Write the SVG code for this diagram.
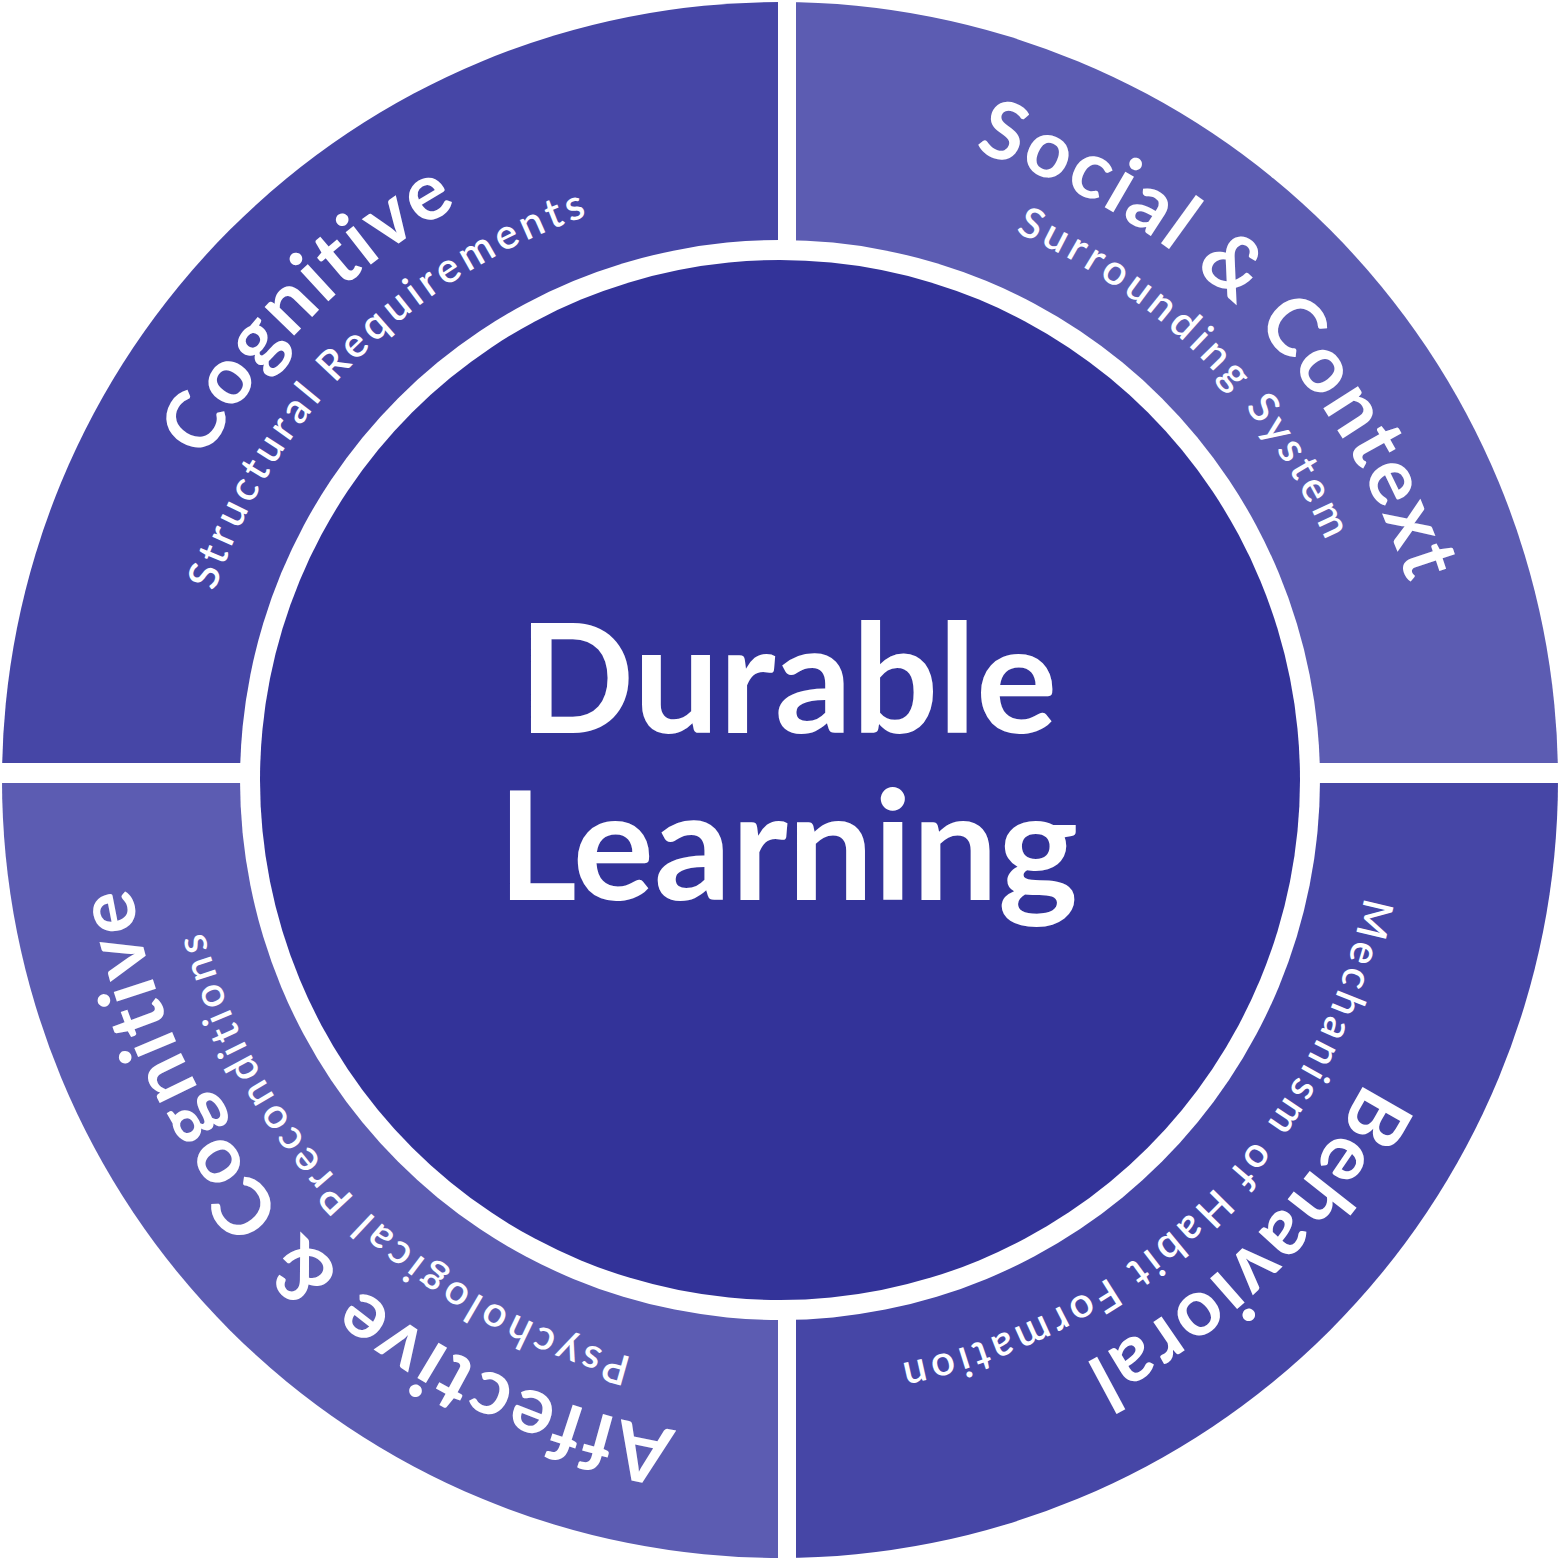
<svg xmlns="http://www.w3.org/2000/svg" xmlns:xlink="http://www.w3.org/1999/xlink" width="1560" height="1560" viewBox="0 0 1560 1560">
<style>
.t{font-family:"Lato","Liberation Sans",sans-serif;font-weight:bold;fill:#fff}
.title{font-size:80px;letter-spacing:3px}
.sub{font-size:42px;letter-spacing:4.5px;font-weight:600}
.c{font-size:152px;text-anchor:middle}
</style>
<defs>
<path id="rt" d="M122,780 A658,658 0 1 1 1438,780 A658,658 0 1 1 122,780"/>
<path id="rs" d="M184,780 A596,596 0 1 1 1376,780 A596,596 0 1 1 184,780"/>
</defs>
<rect width="1560" height="1560" fill="#fff"/>
<g id="q-cognitive"><path d="M780,780 L2,780 A778,778 0 0 1 780,2 Z" fill="#4646A6"/>
<text class="t title"><textPath href="#rt" startOffset="12.5%" text-anchor="middle">Cognitive</textPath></text>
<text class="t sub"><textPath href="#rs" startOffset="12.5%" text-anchor="middle">Structural Requirements</textPath></text></g>
<g id="q-social"><path d="M780,780 L780,2 A778,778 0 0 1 1558,780 Z" fill="#5C5CB2"/>
<text class="t title"><textPath href="#rt" startOffset="37.5%" text-anchor="middle">Social &amp; Context</textPath></text>
<text class="t sub"><textPath href="#rs" startOffset="37.5%" text-anchor="middle">Surrounding System</textPath></text></g>
<g id="q-behavioral"><path d="M780,780 L1558,780 A778,778 0 0 1 780,1558 Z" fill="#4646A6"/>
<text class="t title"><textPath href="#rt" startOffset="62.5%" text-anchor="middle">Behavioral</textPath></text>
<text class="t sub"><textPath href="#rs" startOffset="62.5%" text-anchor="middle">Mechanism of Habit Formation</textPath></text></g>
<g id="q-affective"><path d="M780,780 L780,1558 A778,778 0 0 1 2,780 Z" fill="#5C5CB2"/>
<text class="t title"><textPath href="#rt" startOffset="87.5%" text-anchor="middle">Affective &amp; Cognitive</textPath></text>
<text class="t sub"><textPath href="#rs" startOffset="87.5%" text-anchor="middle">Psychological Preconditions</textPath></text></g>
<g id="gaps" fill="#fff"><rect x="778" y="0" width="18" height="1560"/><rect x="0" y="763" width="1560" height="20"/></g>
<g id="center"><circle cx="780" cy="780" r="540" fill="#fff"/><circle cx="780" cy="780" r="520" fill="#333399"/>
<text class="t c" x="788" y="733">Durable</text>
<text class="t c" x="788" y="900">Learning</text></g>
</svg>
